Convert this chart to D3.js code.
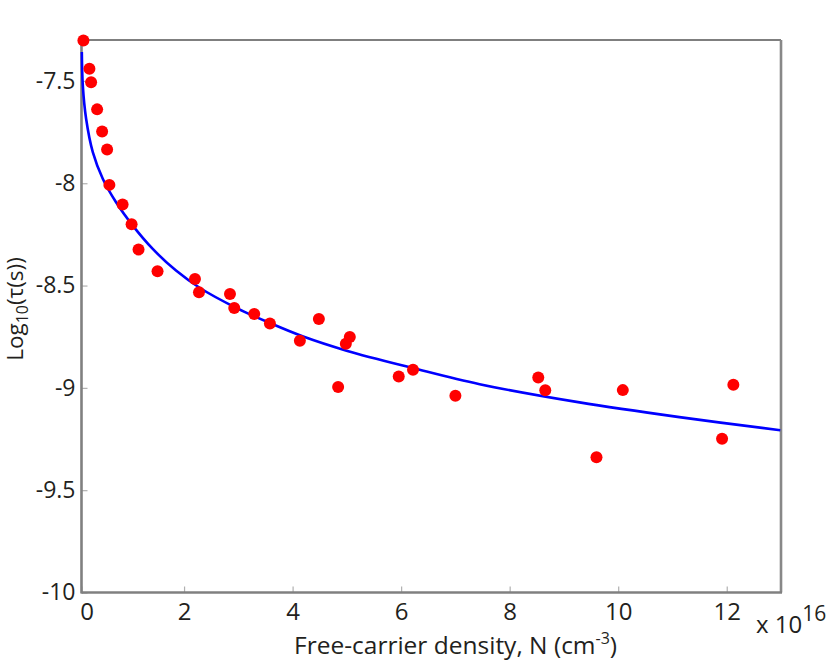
<!DOCTYPE html>
<html>
<head>
<meta charset="utf-8">
<script src="https://cdnjs.cloudflare.com/ajax/libs/d3/7.8.5/d3.min.js"></script>
<style>
  body { margin: 0; background: #fff; }
  text { font-family: "Open Sans", "Noto Sans", sans-serif; fill: #231f20; }
</style>
</head>
<body>
<div class="chart"></div>
<script>
// measured points: N in units of 1e16 cm^-3, log10(tau)
const densityN = [0.145, 0.256, 0.287, 0.398, 0.49, 0.582, 0.624, 0.867, 1.033, 1.161,
                  1.511, 2.201, 2.275, 2.846, 2.925, 3.293, 3.582, 4.134, 4.484, 4.839,
                  4.981, 5.054, 5.956, 6.219, 7.0, 8.527, 8.656, 9.6, 10.085, 11.914, 12.122];
const logTau = [-7.302, -7.44, -7.506, -7.639, -7.747, -7.835, -8.008, -8.104, -8.2, -8.324,
                -8.43, -8.468, -8.533, -8.541, -8.61, -8.639, -8.686, -8.77, -8.663, -8.996,
                -8.784, -8.751, -8.944, -8.911, -9.039, -8.949, -9.012, -9.339, -9.011, -9.249, -8.985];

// fitted curve
const fitN   = [0.116, 0.134, 0.195, 0.318, 0.502, 0.747, 1.055, 1.423, 1.852, 2.293,
                2.969, 3.582, 4.195, 4.994, 6.219, 7.447, 9.288, 11.128, 12.987];
const fitLog = [-7.359, -7.522, -7.685, -7.848, -7.978, -8.093, -8.207, -8.321, -8.427, -8.512,
                -8.61, -8.683, -8.749, -8.818, -8.903, -8.982, -9.071, -9.143, -9.207];

const xTicks = [0.11, 2, 4, 6, 8, 10, 12];
const yTicks = [-10, -9.5, -9, -8.5, -8, -7.5];

const w = 830;
const h = 668;
const padL = 81.5, padR = 781, padT = 40, padB = 592.5;

let svg = d3.select(".chart").append("svg")
            .attr("width", w)
            .attr("height", h);

let xScale = d3.scaleLinear().domain([0.11, 13]).range([padL, padR]);
let yScale = d3.scaleLinear().domain([-10, -7.3]).range([padB, padT]);

// axes with inward ticks
let xAxis = d3.axisBottom(xScale)
              .tickValues(xTicks)
              .tickSizeInner(-6)
              .tickSizeOuter(0)
              .tickPadding(10)
              .tickFormat(d => d < 1 ? "0" : d);
let gx = svg.append("g")
   .attr("transform", "translate(0," + padB + ")")
   .call(xAxis);
gx.select(".domain").remove();
gx.selectAll(".tick line").attr("stroke", "#b0b0b0").attr("stroke-width", 1.2);
gx.selectAll(".tick text").attr("font-size", 24).attr("fill", "#231f20");
gx.selectAll(".tick text").filter(d => d < 1).attr("dx", 5);

let yAxis = d3.axisLeft(yScale)
              .tickValues(yTicks)
              .tickSizeInner(-6)
              .tickSizeOuter(0)
              .tickPadding(6)
              .tickFormat(d => d);
let gy = svg.append("g")
   .attr("transform", "translate(" + padL + ",0)")
   .call(yAxis);
gy.select(".domain").remove();
gy.selectAll(".tick line").attr("stroke", "#b0b0b0").attr("stroke-width", 1.2);
gy.selectAll(".tick text").attr("font-size", 23).attr("fill", "#231f20");

// frame
svg.append("line").attr("x1", padL).attr("x2", padR).attr("y1", padT).attr("y2", padT)
   .attr("stroke", "#555").attr("stroke-width", 1.6);
svg.append("line").attr("x1", padR).attr("x2", padR).attr("y1", padT).attr("y2", padB)
   .attr("stroke", "#888").attr("stroke-width", 2.6);
svg.append("line").attr("x1", padL).attr("x2", padL).attr("y1", padT).attr("y2", padB + 1)
   .attr("stroke", "#808080").attr("stroke-width", 2.6);
svg.append("line").attr("x1", padL).attr("x2", padR + 1).attr("y1", padB).attr("y2", padB)
   .attr("stroke", "#808080").attr("stroke-width", 2.6);

// fit line
let fitData = fitN.map((n, i) => [n, fitLog[i]]);
let line = d3.line()
             .x(d => xScale(d[0]))
             .y(d => yScale(d[1]))
             .curve(d3.curveCatmullRom.alpha(0.5));
svg.append("path")
   .datum(fitData)
   .attr("d", line)
   .attr("fill", "none")
   .attr("stroke", "#0000ff")
   .attr("stroke-width", 2.6);

// data points
let pts = densityN.map((n, i) => ({n: n, v: logTau[i]}));
svg.selectAll(".dot")
   .data(pts)
   .enter()
   .append("circle")
   .attr("class", "dot")
   .attr("cx", d => xScale(d.n))
   .attr("cy", d => yScale(d.v))
   .attr("r", 6)
   .attr("fill", "#ff0000");

// axis titles
let xt = svg.append("text")
   .attr("x", 294)
   .attr("y", 654)
   .attr("font-size", 24.5);
xt.append("tspan").text("Free-carrier density, N (cm");
xt.append("tspan").text("-3").attr("font-size", 16).attr("dy", -10);
xt.append("tspan").text(")").attr("dy", 10);

let ex = svg.append("text")
   .attr("x", 756)
   .attr("y", 633)
   .attr("font-size", 24);
ex.append("tspan").text("x 10");
ex.append("tspan").text("16").attr("font-size", 21).attr("dy", -12);

let yt = svg.append("text")
   .attr("transform", "translate(23,309) rotate(-90)")
   .attr("text-anchor", "middle")
   .attr("font-size", 22.5);
yt.append("tspan").text("Log");
yt.append("tspan").text("10").attr("font-size", 16).attr("dy", 5);
yt.append("tspan").text("(τ(s))").attr("dy", -5);
</script>
</body>
</html>
